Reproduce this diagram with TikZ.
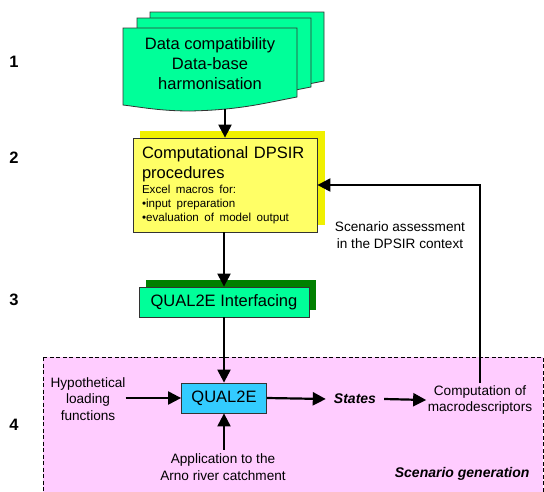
\documentclass[tikz,border=0pt]{standalone}
\usepackage{fontspec}
\setmainfont{Liberation Sans}
\usetikzlibrary{arrows.meta,calc,positioning}
\definecolor{docgreen}{RGB}{0,255,153}
\definecolor{shadegreen}{RGB}{0,128,0}
\definecolor{procyellow}{RGB}{255,255,102}
\definecolor{shadeyellow}{RGB}{240,240,0}
\definecolor{modelcyan}{RGB}{51,204,255}
\definecolor{scenpink}{RGB}{255,204,255}
\tikzset{
    dpsir sheet/.style={
        draw=black!80,
        fill=docgreen,
        line width=0.8pt
    },
    dpsir box/.style={
        draw=black!80,
        line width=0.8pt,
        inner sep=0pt,
        font=\fontsize{16.5}{20}\selectfont
    },
    dpsir label/.style={
        align=center,
        inner sep=2pt,
        font=\fontsize{13.6}{16.5}\selectfont
    },
    dpsir num/.style={font=\fontsize{16.5}{20}\selectfont\bfseries},
    dpsir arrow/.style={-{Triangle[length=13pt,width=13pt]}, line width=2.2pt},
    dpsir feedback/.style={-{Triangle[length=13pt,width=13pt]}, line width=2.2pt}
}

\begin{document}
\begin{tikzpicture}[x=1pt,y=-1pt]
    \useasboundingbox (0,0) rectangle (544,491);

    % scenario area
    \draw[fill=scenpink, dashed, dash pattern=on 4pt off 2.5pt, line width=0.8pt] (43,357) rectangle (543,496);

    % layer numbers
    \node[dpsir num] (n1) at (14,62) {1};
    \node[dpsir num] (n2) at (14,158) {2};
    \node[dpsir num] (n3) at (14,300) {3};
    \node[dpsir num] (n4) at (14,425) {4};

    % stack of documents
    \foreach \dx/\dy in {27/-16, 14/-10, 0/0}
        \draw[dpsir sheet, shift={(\dx,\dy)}] (123,28) -- (297,28) -- (297,97)
            .. controls (265,103) and (240,110) .. (190,111)
            .. controls (160,111) and (140,107) .. (123,105) -- cycle;
    \node[align=center, font=\fontsize{16.5}{20}\selectfont] (data) at (210,64) {Data compatibility\\Data-base\\harmonisation};
    \coordinate (dataout) at (225,109);

    % DPSIR procedures
    \fill[shadeyellow] (140,131) rectangle (325,225);
    \node[dpsir box, fill=procyellow, minimum width=184pt, minimum height=94pt, text width=166pt, inner xsep=9pt, align=left] (proc) at (225,185)
        {{\fontsize{16.5}{20}\selectfont Computational DPSIR\\procedures\par}\vspace{1.5pt}%
         {\fontsize{11.6}{14}\selectfont Excel macros for:\\\textbullet input preparation\\\textbullet evaluation of model output\par}};

    % interfacing
    \fill[shadegreen] (146,280) rectangle (316,310);
    \node[dpsir box, fill=docgreen, minimum width=170pt, minimum height=30pt] (iface) at (224,302) {QUAL2E Interfacing};

    % model
    \node[dpsir box, fill=modelcyan, minimum width=85pt, minimum height=30pt] (qual) at (224,398) {QUAL2E};
    \node[dpsir label, inner sep=0pt] (hypo) at (88,399) {Hypothetical\\loading\\functions};
    \node[dpsir label, inner sep=4pt] (arno) at (223,467) {Application to the\\Arno river catchment};
    \node[dpsir label, font=\fontsize{14}{16.5}\selectfont\bfseries\itshape, inner xsep=8pt] (states) at (355,399) {States};
    \node[dpsir label, inner xsep=1.5pt] (macro) at (480,400) {Computation of\\macrodescriptors};
    \node[dpsir label] (assess) at (400,235) {Scenario assessment\\in the DPSIR context};
    \node[font=\fontsize{14}{16.5}\selectfont\bfseries\itshape, anchor=east] (scen) at (533,474) {Scenario generation};

    \draw[dpsir arrow] (dataout) -- (proc.north);
    \draw[dpsir arrow] (proc.south -| iface.north) -- (iface.north);
    \draw[dpsir arrow] (iface.south) -- (qual.north);
    \draw[dpsir arrow] (hypo.east |- qual.west) -- (qual.west);
    \draw[dpsir arrow] (arno.north -| qual.south) -- (qual.south);
    \draw[dpsir arrow] (qual.east) -- (states.west);
    \draw[dpsir arrow] (states.east) -- (macro.west);
    \draw[dpsir feedback] (macro.north) |- (proc.east);
\end{tikzpicture}
\end{document}
